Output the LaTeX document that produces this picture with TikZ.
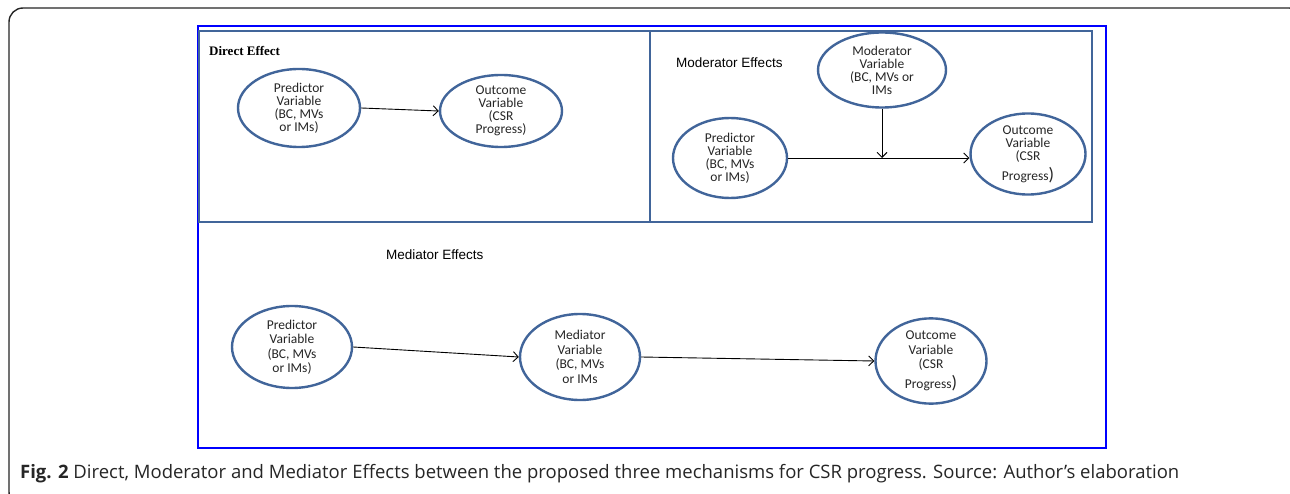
\documentclass[tikz,border=0pt]{standalone}
\usepackage{fontspec}
\setmainfont{Carlito}
\newfontfamily\arialf{Liberation Sans}
\newfontfamily\timesf{Liberation Serif}
\newfontfamily\capf{Open Sans}
\usetikzlibrary{shapes.geometric,arrows.meta}
\definecolor{steel}{RGB}{65,101,154}
\definecolor{pureblue}{RGB}{0,0,255}
\tikzset{
  var/.style={ellipse, draw=steel, line width=2.4pt, inner sep=0pt, align=center,
    font=\fontsize{13.5}{13}\selectfont, text=black!85},
  varb/.style={var, font=\fontsize{13.5}{14.5}\selectfont},
  panel/.style={draw=steel, line width=2pt},
  conn/.style={line width=0.9pt, -{Straight Barb[length=5pt,width=10pt,line width=0.9pt]}},
}
\begin{document}
\begin{tikzpicture}[x=1pt,y=-1pt]
\useasboundingbox (0,0) rectangle (1290,494);
\fill[white] (0,0) rectangle (1290,494);
% outer frame
\draw[black!85, line width=1.4pt, rounded corners=14pt] (9,8) rectangle (1303,506);
% blue frame
\draw[pureblue, line width=2pt] (198,26) rectangle (1106,448);
% panels
\draw[panel] (199,31) rectangle (650,222);
\draw[panel] (650,31) rectangle (1092,222);
% labels
\node[anchor=west, inner sep=0pt, font=\timesf\bfseries\fontsize{13}{14}\selectfont] (ldir) at (209,51) {Direct Effect};
\node[anchor=west, inner sep=0pt, font=\arialf\fontsize{13.5}{13}\selectfont] (lmod) at (676,63) {Moderator Effects};
\node[anchor=west, inner sep=0pt, font=\arialf\fontsize{13.5}{13}\selectfont] (lmed) at (386,255) {Mediator Effects};
% direct
\node[var, minimum width=122pt, minimum height=78pt] (dp) at (299,108) {Predictor\\Variable\\(BC, MVs\\or IMs)};
\node[var, minimum width=122pt, minimum height=72pt] (do) at (501,111) {Outcome\\Variable\\(CSR\\Progress)};
\draw[conn] (dp.east) -- (do.west);
% moderator
\node[var, minimum width=128pt, minimum height=75pt] (mm) at (882,70) {Moderator\\Variable\\(BC, MVs or\\IMs};
\node[var, minimum width=114pt, minimum height=80pt] (mp) at (730,158) {Predictor\\Variable\\(BC, MVs\\or IMs)};
\node[var, minimum width=115pt, minimum height=77pt] (mo) at (1028,154) {Outcome\\Variable\\(CSR\\[4pt]Progress{\fontsize{18}{13}\selectfont)}};
\coordinate (mj) at (mm.south |- mp.east);
\draw[conn] (mp.east) -- (mo.west |- mp.east);
\draw[conn] (mm.south) -- (mj);
% mediator
\node[varb, minimum width=120pt, minimum height=82pt] (ep) at (292,347) {Predictor\\Variable\\(BC, MVs\\or IMs)};
\node[varb, minimum width=120pt, minimum height=86pt] (em) at (580,357) {Mediator\\Variable\\(BC, MVs\\or IMs};
\node[varb, minimum width=111pt, minimum height=82pt] (eo) at (931,361) {Outcome\\Variable\\(CSR\\[4pt]Progress{\fontsize{18}{13}\selectfont)}};
\draw[conn] (ep.east) -- (em.west);
\draw[conn] (em.east) -- (eo.west);
% caption
\node[anchor=west, inner sep=0pt, font=\capf\fontsize{18.5}{20}\selectfont, text=black!85] (cap) at (20,474)
  {\textbf{Fig. 2} Direct, Moderator and Mediator Effects between the proposed three mechanisms for CSR progress. Source: Author’s elaboration};
\end{tikzpicture}
\end{document}
